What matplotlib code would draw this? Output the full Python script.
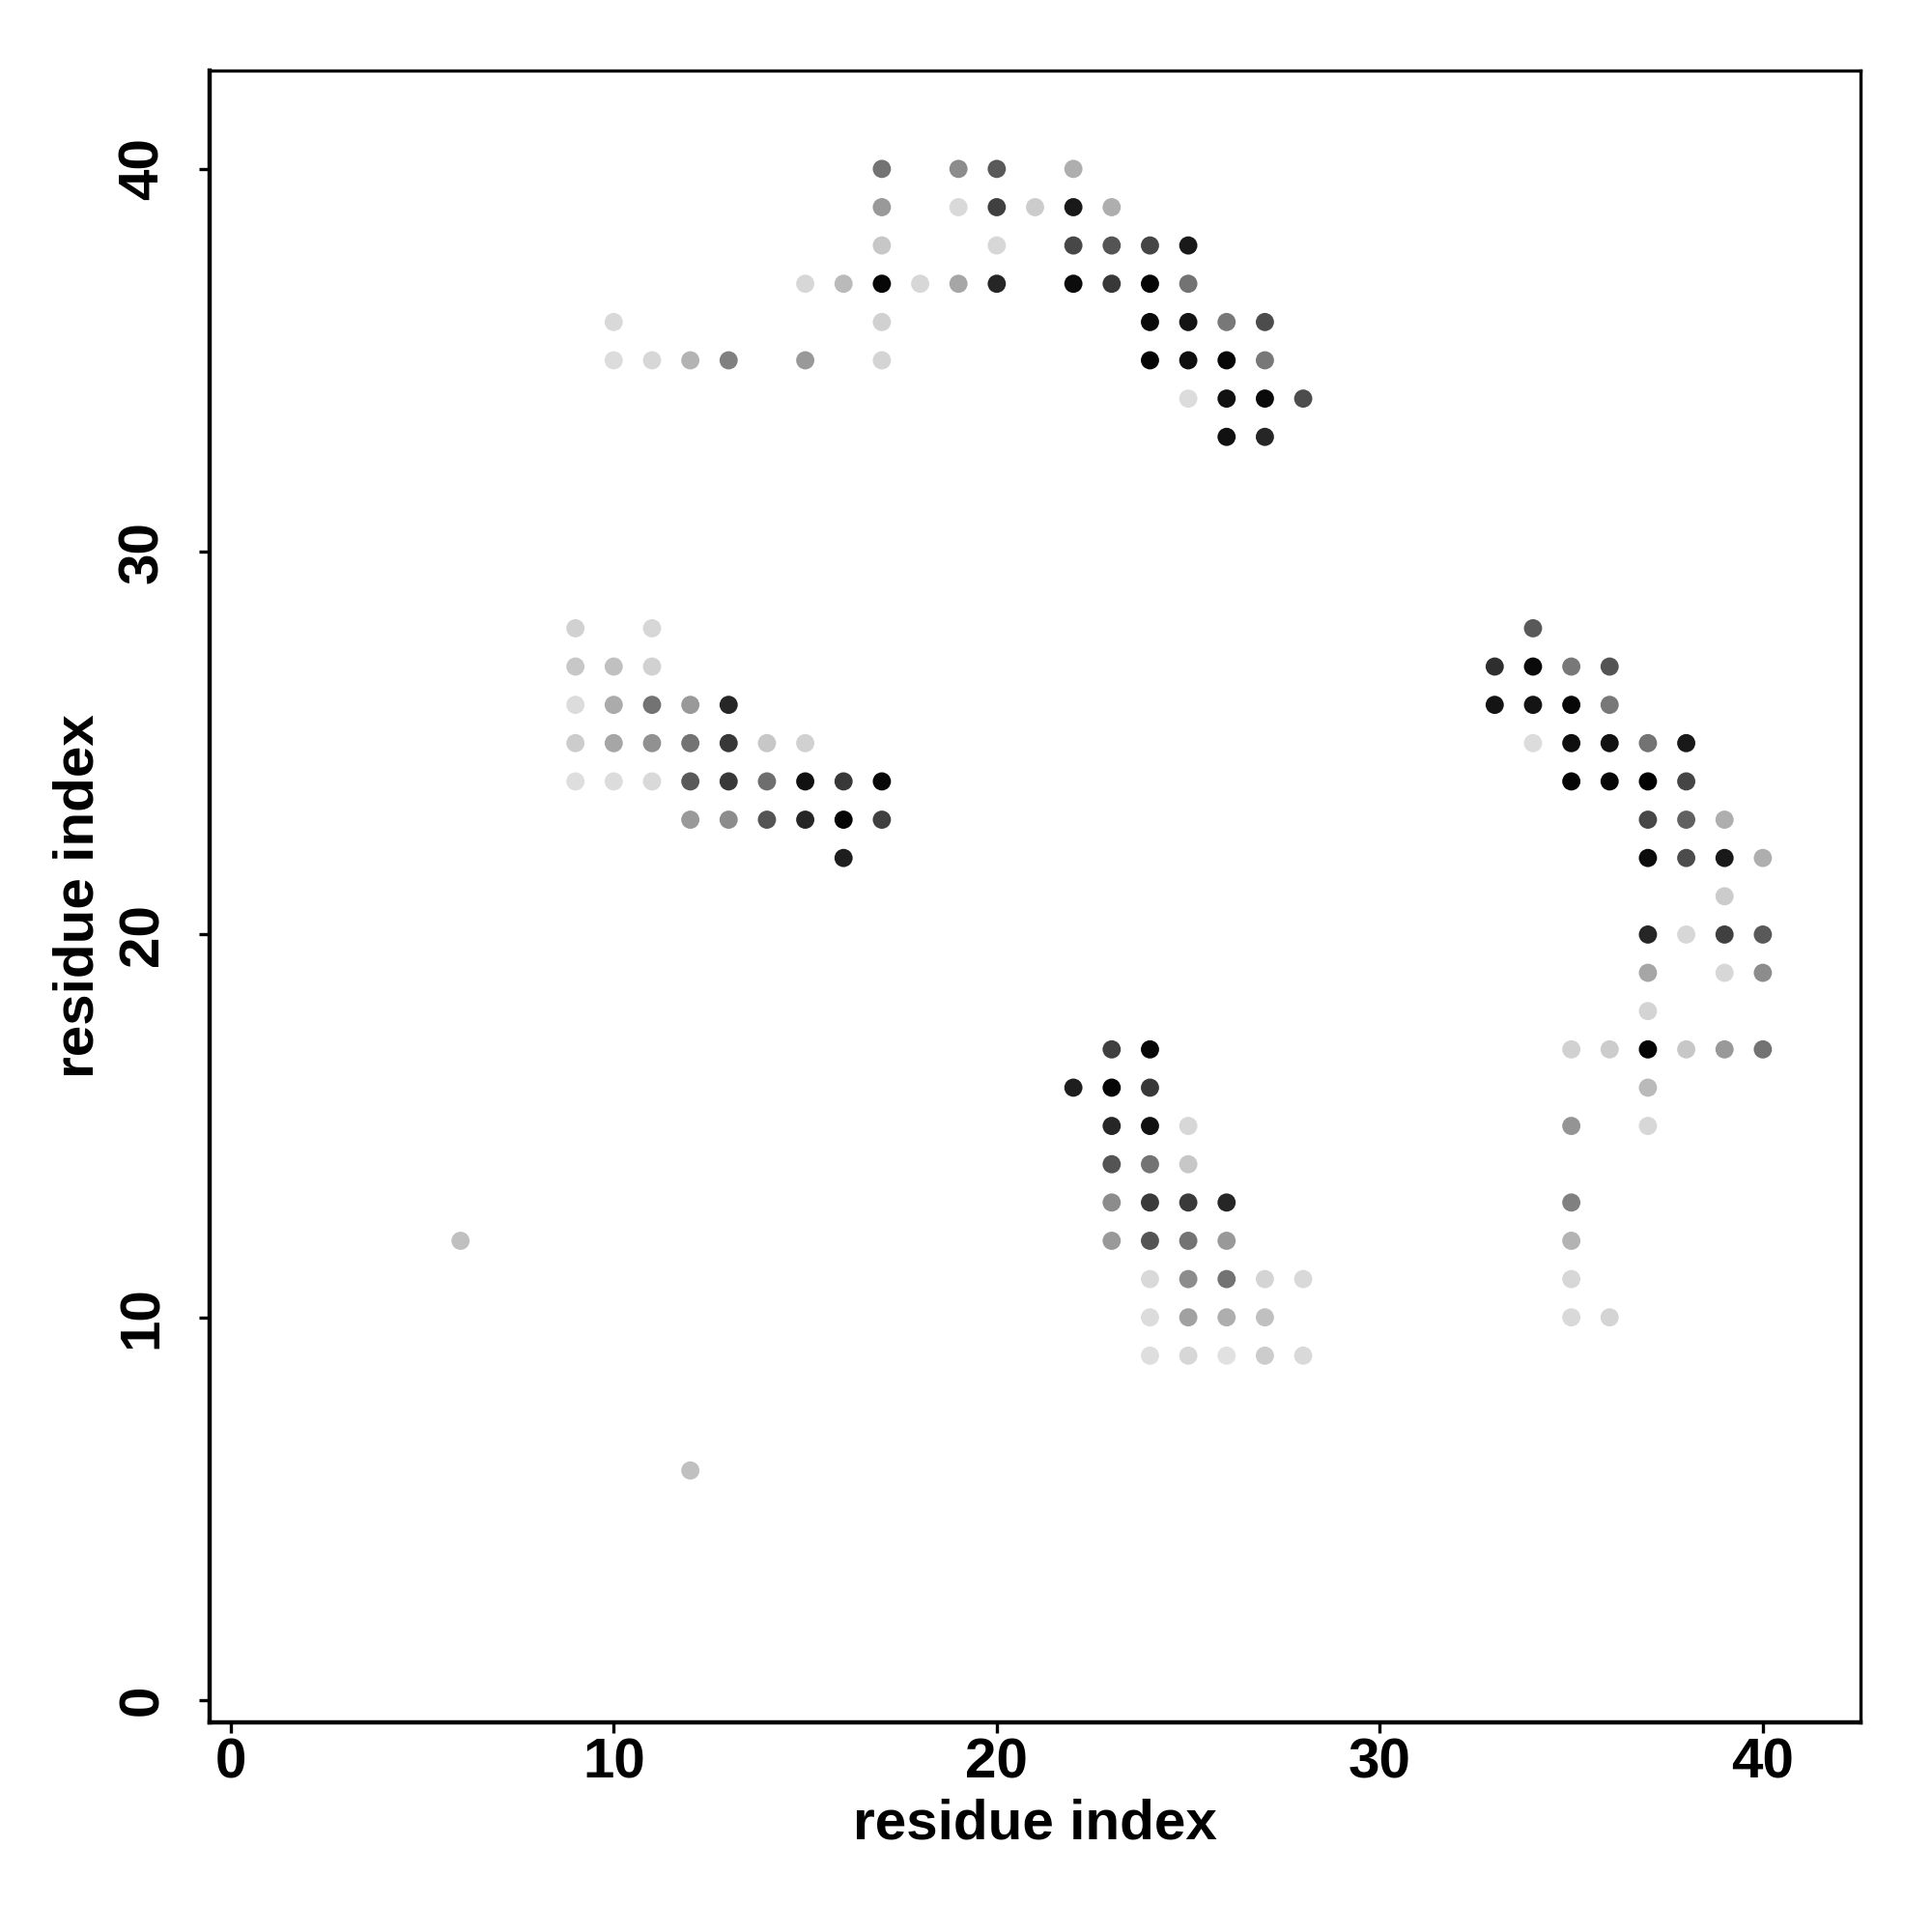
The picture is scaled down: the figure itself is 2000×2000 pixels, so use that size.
import matplotlib
matplotlib.use("Agg")
import matplotlib.pyplot as plt
import numpy as np

# residue pairs (i, j) and contact shade (0 = black/strong, ~0.88 = light/weak)
x_top = [17, 19, 20, 22,
         17, 19, 20, 21, 22, 23,
         17, 20, 22, 23, 24, 25,
         15, 16, 17, 18, 19, 20, 22, 23, 24, 25,
         10, 17, 24, 25, 26, 27,
         10, 11, 12, 13, 15, 17, 24, 25, 26, 27,
         25, 26, 27, 28,
         26, 27]
y_top = [40, 40, 40, 40,
         39, 39, 39, 39, 39, 39,
         38, 38, 38, 38, 38, 38,
         37, 37, 37, 37, 37, 37, 37, 37, 37, 37,
         36, 36, 36, 36, 36, 36,
         35, 35, 35, 35, 35, 35, 35, 35, 35, 35,
         34, 34, 34, 34,
         33, 33]
s_top = [0.45, 0.55, 0.35, 0.68,
         0.60, 0.85, 0.25, 0.80, 0.10, 0.68,
         0.78, 0.84, 0.28, 0.33, 0.27, 0.10,
         0.84, 0.73, 0.03, 0.84, 0.65, 0.15, 0.05, 0.22, 0.02, 0.45,
         0.85, 0.82, 0.04, 0.08, 0.47, 0.30,
         0.86, 0.84, 0.70, 0.50, 0.60, 0.83, 0.02, 0.06, 0.03, 0.47,
         0.86, 0.07, 0.04, 0.30,
         0.07, 0.15]

x_left = [9, 11,
          9, 10, 11,
          9, 10, 11, 12, 13,
          9, 10, 11, 12, 13, 14, 15,
          9, 10, 11, 12, 13, 14, 15, 16, 17,
          12, 13, 14, 15, 16, 17,
          16]
y_left = [28, 28,
          27, 27, 27,
          26, 26, 26, 26, 26,
          25, 25, 25, 25, 25, 25, 25,
          24, 24, 24, 24, 24, 24, 24, 24, 24,
          23, 23, 23, 23, 23, 23,
          22]
s_left = [0.82, 0.84,
          0.78, 0.75, 0.82,
          0.86, 0.67, 0.45, 0.60, 0.15,
          0.80, 0.65, 0.57, 0.45, 0.22, 0.78, 0.82,
          0.87, 0.86, 0.85, 0.35, 0.22, 0.43, 0.07, 0.22, 0.03,
          0.60, 0.55, 0.33, 0.15, 0.02, 0.25,
          0.12]

x_right = [34,
           33, 34, 35, 36,
           33, 34, 35, 36,
           34, 35, 36, 37, 38,
           35, 36, 37, 38,
           37, 38, 39,
           37, 38, 39, 40,
           39,
           37, 38, 39, 40,
           37, 39, 40,
           37,
           35, 36, 37, 38, 39, 40,
           37,
           35, 37,
           35, 35, 35,
           35, 36]
y_right = [28,
           27, 27, 27, 27,
           26, 26, 26, 26,
           25, 25, 25, 25, 25,
           24, 24, 24, 24,
           23, 23, 23,
           22, 22, 22, 22,
           21,
           20, 20, 20, 20,
           19, 19, 19,
           18,
           17, 17, 17, 17, 17, 17,
           16,
           15, 15,
           13, 12, 11,
           10, 10]
s_right = [0.35,
           0.18, 0.04, 0.47, 0.33,
           0.08, 0.08, 0.03, 0.47,
           0.86, 0.06, 0.07, 0.45, 0.10,
           0.02, 0.03, 0.01, 0.27,
           0.28, 0.38, 0.68,
           0.05, 0.30, 0.10, 0.68,
           0.80,
           0.15, 0.84, 0.25, 0.35,
           0.65, 0.84, 0.55,
           0.83,
           0.82, 0.80, 0.02, 0.78, 0.60, 0.45,
           0.73,
           0.58, 0.84,
           0.50, 0.70, 0.84,
           0.85, 0.83]

x_bottom = [23, 24,
            22, 23, 24,
            23, 24, 25,
            23, 24, 25,
            23, 24, 25, 26,
            23, 24, 25, 26,
            24, 25, 26, 27, 28,
            24, 25, 26, 27,
            24, 25, 26, 27, 28]
y_bottom = [17, 17,
            16, 16, 16,
            15, 15, 15,
            14, 14, 14,
            13, 13, 13, 13,
            12, 12, 12, 12,
            11, 11, 11, 11, 11,
            10, 10, 10, 10,
            9, 9, 9, 9, 9]
s_bottom = [0.25, 0.03,
            0.12, 0.02, 0.22,
            0.15, 0.07, 0.84,
            0.33, 0.45, 0.78,
            0.55, 0.23, 0.23, 0.15,
            0.60, 0.33, 0.45, 0.60,
            0.85, 0.55, 0.45, 0.83, 0.85,
            0.86, 0.63, 0.68, 0.75,
            0.87, 0.84, 0.88, 0.80, 0.85]

x_single = [6, 12]
y_single = [12, 6]
s_single = [0.75, 0.75]

ticks = [0, 10, 20, 30, 40]
tick_labels = ["0", "10", "20", "30", "40"]

plt.rcParams['font.family'] = ['Liberation Sans', 'DejaVu Sans']
plt.rcParams['font.weight'] = 'bold'

fig = plt.figure(figsize=(10, 10), dpi=200)
ax = fig.add_axes([0.1085, 0.1085, 0.9630 - 0.1085, 0.9635 - 0.1085])

xs = x_top + x_left + x_right + x_bottom + x_single
ys = y_top + y_left + y_right + y_bottom + y_single
ss = s_top + s_left + s_right + s_bottom + s_single

ax.scatter(xs, ys, c=ss, cmap='gray', vmin=0, vmax=1, s=46, linewidths=0, zorder=3)

ax.set_xlim(-0.55, 42.55)
ax.set_ylim(-0.58, 42.57)
ax.set_xticks(ticks)
ax.set_xticklabels(tick_labels)
ax.set_yticks(ticks)
ax.set_yticklabels(tick_labels, rotation=90, va='center')

ax.tick_params(axis='both', direction='out', length=4, width=1.2, labelsize=21)
ax.tick_params(axis='x', pad=1.5)
ax.tick_params(axis='y', pad=11)

for side in ['top', 'right']:
    ax.spines[side].set_linewidth(1.2)
for side in ['left', 'bottom']:
    ax.spines[side].set_linewidth(1.6)

ax.set_xlabel("residue index", fontsize=21, fontweight='bold')
ax.set_ylabel("residue index", fontsize=21, fontweight='bold')
ax.xaxis.set_label_coords(0.5, -0.046)
ax.xaxis.label.set_va('top')
ax.yaxis.set_label_coords(-0.0795, 0.5)
ax.yaxis.label.set_va('center')

fig.savefig("out.png", dpi=200, facecolor='white')
